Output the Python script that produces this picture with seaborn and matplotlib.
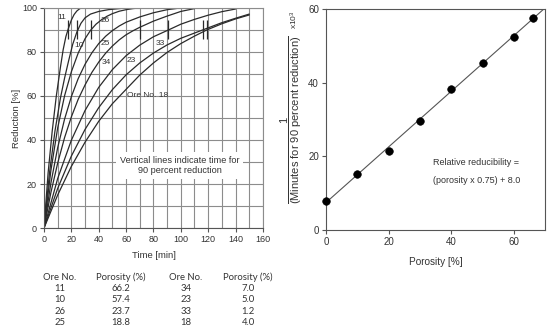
import numpy as np
import pandas as pd
import seaborn as sns
import matplotlib.pyplot as plt

# reduction curves: time [min] -> reduction [%]
ore_ids = ['11', '10', '26', '25', '34', '23', '33', '18']
t_11 = [0, 3, 6, 9, 12, 14, 16, 18, 20, 22, 24, 26, 27.5]
r_11 = [0, 25, 44, 60, 73, 81, 87, 91, 94.5, 97, 98.6, 99.6, 100]
t_10 = [0, 4, 8, 12, 15, 18, 21, 24, 27, 30, 34, 40, 47, 55, 62]
r_10 = [0, 25, 44, 59, 68, 76, 83.5, 89, 93, 95.5, 97.2, 98.4, 99.2, 99.7, 100]
t_26 = [0, 5, 10, 15, 20, 25, 30, 34, 38, 42, 46, 50, 55, 60, 65, 70]
r_26 = [0, 26, 45.5, 60, 71, 79.5, 86, 89.8, 92.6, 94.6, 96.2, 97.4, 98.5, 99.2, 99.7, 100]
t_25 = [0, 5, 10, 15, 20, 25, 30, 35, 40, 45, 50, 55, 60, 70, 80, 90, 100]
r_25 = [0, 20.3, 36.5, 49.4, 59.7, 67.9, 74.4, 79.6, 83.8, 87.1, 89.7, 91.8, 93.5, 95.9, 97.8, 99.2, 100]
t_34 = [0, 5, 10, 15, 20, 25, 30, 35, 40, 45, 50, 55, 60, 65, 70, 80, 90, 100, 110]
r_34 = [0, 16, 29.5, 41, 50.5, 58.5, 65, 70.7, 75.4, 79.4, 82.7, 85.5, 87.8, 89.6, 91.2, 94, 96.3, 98.4, 99.7]
t_23 = [0, 10, 20, 30, 40, 50, 60, 70, 80, 91, 100, 110, 120, 130, 140]
r_23 = [0, 22.5, 39.9, 53.4, 63.9, 72, 78.3, 83.1, 86.9, 90, 92.6, 94.8, 96.7, 98.3, 99.5]
t_33 = [0, 10, 20, 30, 40, 50, 60, 70, 80, 90, 100, 116, 130, 140, 150]
r_33 = [0, 18, 32.7, 44.8, 54.7, 62.9, 69.6, 75, 79.5, 83.2, 86.2, 90, 93.3, 95.3, 97.2]
t_18 = [0, 10, 20, 30, 40, 50, 60, 70, 80, 90, 100, 110, 119, 130, 140, 150]
r_18 = [0, 15, 28, 39, 48.5, 56.5, 63, 69.5, 75, 79.8, 83.8, 87.2, 90, 92.8, 95, 96.8]
curve_t = [t_11, t_10, t_26, t_25, t_34, t_23, t_33, t_18]
curve_r = [r_11, r_10, r_26, r_25, r_34, r_23, r_33, r_18]

# times for 90 percent reduction (short vertical marks)
t90 = [17.5, 24, 34, 70, 91, 116, 119]

# right chart: relative reducibility vs porosity
porosity = [0, 10, 20, 30, 40, 50, 60, 66]
reducibility = [8.0, 15.2, 21.5, 29.7, 38.3, 45.4, 52.5, 57.6]

# table under the left chart
ore_left = ['11', '10', '26', '25']
por_left = ['66.2', '57.4', '23.7', '18.8']
ore_right = ['34', '23', '33', '18']
por_right = ['7.0', '5.0', '1.2', '4.0']

sns.set_theme(style="white")
plt.rcParams['font.family'] = ['Liberation Sans', 'DejaVu Sans']
plt.rcParams['mathtext.fontset'] = 'custom'
plt.rcParams['mathtext.rm'] = 'Liberation Sans'
plt.rcParams['mathtext.it'] = 'Liberation Sans:italic'

fig = plt.figure(figsize=(5.5, 3.3), dpi=100)
ax1 = fig.add_axes([0.080, 0.309, 0.398, 0.667])
ax2 = fig.add_axes([0.5927, 0.303, 0.399, 0.670])

ink = '#2a2a2a'
txt = '#333333'

#%% left: reduction curves
for t, r in zip(curve_t, curve_r):
    sns.lineplot(x=t, y=r, ax=ax1, color=ink, lw=0.9, sort=False)
ax1.vlines(t90, 86, 94.5, color=ink, lw=0.9)

ax1.set_xlim(0, 160)
ax1.set_ylim(0, 100)
ax1.set_xticks(np.arange(0, 161, 20))
ax1.set_yticks(np.arange(0, 101, 20))
ax1.set_xticks(np.arange(0, 161, 10), minor=True)
ax1.set_yticks(np.arange(0, 101, 10), minor=True)
ax1.set_axisbelow(True)
ax1.grid(which='both', color='#8c8c8c', lw=0.8)
ax1.tick_params(which='major', direction='out', length=3, width=0.8, color='#555555',
                labelsize=6.5, labelcolor=txt, left=True, bottom=True, pad=2)
ax1.tick_params(which='minor', length=0)
for s in ax1.spines.values():
    s.set_color('#8c8c8c')
    s.set_linewidth(0.8)
ax1.spines['left'].set_color('#555555')
ax1.spines['bottom'].set_color('#555555')
ax1.set_xlabel('Time [min]', fontsize=6.8, color=txt, labelpad=5)
ax1.set_ylabel('Reduction [%]', fontsize=6.8, color=txt, labelpad=1)

# curve labels
lab_kw = dict(fontsize=6, color=txt, ha='center', va='center')
ax1.text(13, 95.5, '11', **lab_kw)
ax1.text(25.5, 83, '10', **lab_kw)
ax1.text(45, 94.5, '26', **lab_kw)
ax1.text(45, 84, '25', **lab_kw)
ax1.text(45.5, 75, '34', **lab_kw)
ax1.text(63.5, 76, '23', **lab_kw)
ax1.text(85, 84, '33', **lab_kw)
ax1.text(76, 60, 'Ore No. 18', **lab_kw)

ax1.text(99, 28.3, 'Vertical lines indicate time for\n90 percent reduction',
         ha='center', va='center', fontsize=6.6, color=txt, linespacing=1.15,
         bbox=dict(facecolor='white', edgecolor='none', pad=3))

#%% right: reducibility vs porosity
ax2.set_xlim(0, 70)
ax2.set_ylim(0, 60)
sns.regplot(x=porosity, y=reducibility, ax=ax2, ci=None, truncate=False,
            scatter=False, line_kws=dict(color='#555555', lw=0.8))
sns.scatterplot(x=porosity, y=reducibility, ax=ax2, color='black', s=30,
                edgecolor='black', zorder=3, clip_on=False)
ax2.set_xticks([0, 20, 40, 60])
ax2.set_yticks([0, 20, 40, 60])
ax2.tick_params(direction='out', length=3, width=0.8, color='#555555',
                labelsize=7, labelcolor=txt, left=True, bottom=True, pad=2)
for s in ax2.spines.values():
    s.set_color('#555555')
    s.set_linewidth(0.8)
ax2.set_xlabel('Porosity [%]', fontsize=7.2, color=txt, labelpad=7)
ax2.set_ylabel(r'$\dfrac{1}{\mathrm{(Minutes\ for\ 90\ percent\ reduction)}}$',
               fontsize=8, color=txt, labelpad=3)
fig.text(294 / 550, 1 - 20 / 330, r'x10$^3$', rotation=90, fontsize=6,
         color=txt, ha='center', va='center')
ax2.text(34.2, 18.2, 'Relative reducibility =', fontsize=6.5, color=txt, va='center')
ax2.text(34.2, 13.3, '(porosity x 0.75) + 8.0', fontsize=6.5, color=txt, va='center')

#%% table
cols = [60, 121, 186, 248]
rows = [277, 288.3, 299.3, 311, 322.3]
tab_kw = dict(fontsize=6.8, color=txt, ha='center', va='center', family=['Lato', 'DejaVu Sans'])
for x, h in zip(cols, ['Ore No.', 'Porosity (%)', 'Ore No.', 'Porosity (%)']):
    fig.text(x / 550, 1 - rows[0] / 330, h, **tab_kw)
for col, vals in zip(cols, [ore_left, por_left, ore_right, por_right]):
    for y, v in zip(rows[1:], vals):
        fig.text(col / 550, 1 - y / 330, v, **tab_kw)

fig.savefig('out.png', dpi=100)
